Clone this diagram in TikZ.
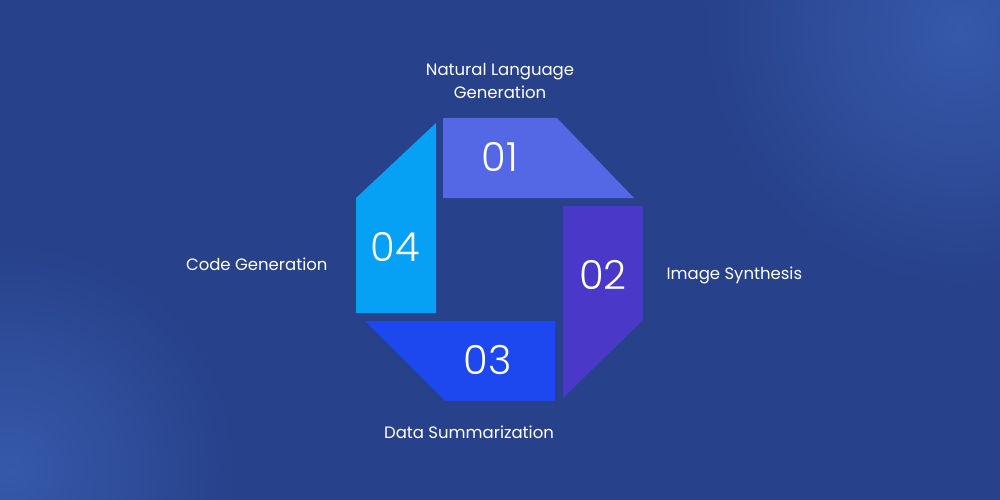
\documentclass[tikz,border=0pt]{standalone}
\usepackage{fontspec}
\setmainfont{Poppins}
\newfontfamily\numfont{Poppins Light}
\definecolor{bg}{HTML}{27418A}
\definecolor{bgl}{HTML}{3659AA}
\definecolor{cA}{HTML}{5468E6}
\definecolor{cB}{HTML}{4A39C8}
\definecolor{cC}{HTML}{1D48EF}
\definecolor{cD}{HTML}{06A0F5}
\begin{document}
\begin{tikzpicture}[x=1pt,y=-1pt,
  lbl/.style={text=white,font=\fontsize{16.5}{23}\selectfont,align=center},
  num/.style={text=white,font=\numfont\fontsize{40}{40}\selectfont}]
\useasboundingbox (0,0) rectangle (1000,500);
\begin{scope}
\clip (0,0) rectangle (1000,500);
\fill[bg] (0,0) rectangle (1000,500);
\shade[inner color=bgl,outer color=bg] (960,30) circle (260);
\shade[inner color=bgl,outer color=bg] (10,470) circle (230);
\end{scope}
\fill[cA] (443,118) -- (557,118) -- (634,198) -- (443,198) -- cycle;
\fill[cB] (563,206) -- (643,206) -- (643,320) -- (563,398) -- cycle;
\fill[cC] (365,321) -- (555,321) -- (555,401) -- (445,401) -- cycle;
\fill[cD] (436,123) -- (436,313) -- (356,313) -- (356,198) -- cycle;
\node[num] (n1) at (500,157) {01};
\node[num] (n2) at (603,275) {02};
\node[num] (n3) at (488,360) {03};
\node[num] (n4) at (395,247) {04};
\node[lbl] (t1) at (500,81) {Natural Language\\Generation};
\node[lbl,anchor=west] (t2) at (663,275) {Image Synthesis};
\node[lbl,anchor=east] (t4) at (331,264) {Code Generation};
\node[lbl] (t3) at (469,432) {Data Summarization};
\end{tikzpicture}
\end{document}
